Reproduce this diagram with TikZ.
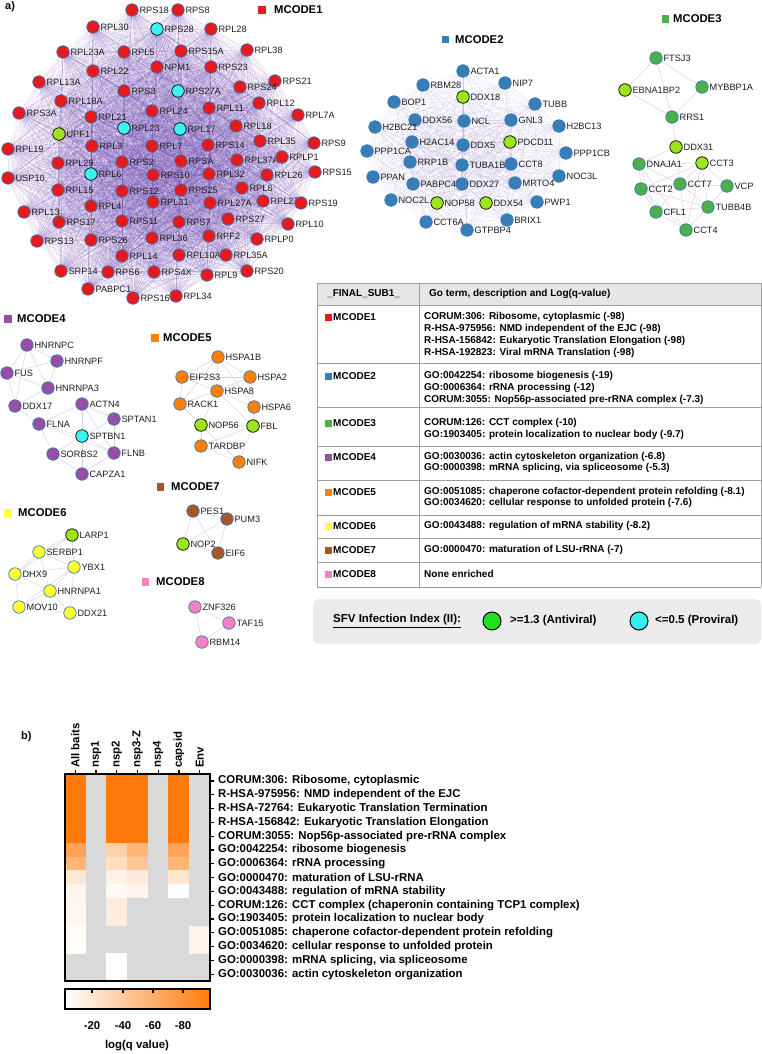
\documentclass[tikz,border=0pt]{standalone}
\usepackage{fontspec}
\setmainfont{Liberation Sans}
\pgfdeclarelayer{edgelayer}
\pgfsetlayers{edgelayer,main}
\definecolor{mRed}{HTML}{E41A1C}
\definecolor{mBlue}{HTML}{377EB8}
\definecolor{mGreen}{HTML}{4DAF4A}
\definecolor{mPurple}{HTML}{984EA3}
\definecolor{mOrange}{HTML}{FF7F00}
\definecolor{mYellow}{HTML}{FFFF33}
\definecolor{mBrown}{HTML}{A65628}
\definecolor{mPink}{HTML}{F781BF}
\definecolor{avG}{HTML}{9CE51C}
\definecolor{pvC}{HTML}{3EF2F2}
\definecolor{legG}{HTML}{1FE01F}
\definecolor{legC}{HTML}{33EEEE}
\definecolor{nbd}{HTML}{3B78B5}
\definecolor{hmO}{HTML}{FF7A0A}
\definecolor{hmGray}{HTML}{D9D9D9}
\definecolor{tblLine}{HTML}{A0A0A0}
\definecolor{tblHead}{HTML}{E6E6E6}
\definecolor{legBg}{HTML}{EBEBEB}
\definecolor{hazeA}{HTML}{6A44AE}
\definecolor{hazeB}{HTML}{8A78C4}
\definecolor{smEdge}{HTML}{D6D0E6}
\colorlet{cAn}{mRed}\colorlet{cBn}{mBlue}\colorlet{cCn}{mGreen}\colorlet{cDn}{mPurple}
\colorlet{cEn}{mOrange}\colorlet{cFn}{mYellow}\colorlet{cGn}{mBrown}\colorlet{cHn}{mPink}
\colorlet{cAa}{avG}\colorlet{cBa}{avG}\colorlet{cCa}{avG}\colorlet{cDa}{avG}
\colorlet{cEa}{avG}\colorlet{cFa}{avG}\colorlet{cGa}{avG}\colorlet{cHa}{avG}
\colorlet{cAp}{pvC}\colorlet{cDp}{pvC}
\colorlet{bdn}{nbd}\colorlet{bda}{black}\colorlet{bdp}{black}
\newcommand\nlab{\fontsize{9.2}{10}\selectfont}
\newcommand\mclab{\fontsize{11.3}{13}\selectfont\bfseries}
\newcommand\tbfont{\fontsize{10}{12}\selectfont\bfseries}
\newcommand\hmfont{\fontsize{11.4}{13}\selectfont\bfseries}
\def\clA{RPS18,RPS8,RPL30,RPS28,RPL28,RPL23A,RPL5,RPS15A,RPL38,RPL22,NPM1,RPS23,RPL13A,RPS21,RPS24,RPS3,RPS27A,RPL12,RPL18A,RPL24,RPL11,RPL7A,RPS3A,RPL21,RPL23,RPL17,RPL18,UPF1,RPL3,RPL7,RPS14,RPL35,RPL19,RPS9,RPL29,RPS2,RPSA,RPL37A,RPLP1,USP10,RPL6,RPS10,RPL32,RPL26,RPS15,RPL15,RPS12,RPS25,RPL8,RPL4,RPL31,RPL27A,RPL27,RPS19,RPL13,RPS17,RPS11,RPS7,RPS27,RPL10,RPS13,RPS26,RPL36,RPF2,RPLP0,RPL14,RPL10A,RPL35A,SRP14,RPS6,RPS4X,RPL9,RPS20,PABPC1,RPS16,RPL34}
\def\clB{ACTA1,RBM28,DDX18,NIP7,BOP1,DDX56,NCL,GNL3,TUBB,H2BC21,H2AC14,DDX5,PDCD11,H2BC13,PPP1CA,RRP1B,TUBA1B,CCT8,PPP1CB,PPAN,PABPC4,DDX27,MRTO4,NOC3L,NOC2L,NOP58,DDX54,PWP1,CCT6A,GTPBP4,BRIX1}
\tikzset{
  nd/.style={circle, minimum size=12.5pt, inner sep=0pt, line width=0.7pt},
  nl/.style={font=\nlab, inner sep=0.8pt, text=black!88},
  hazeone/.style={draw=hazeA, line width=0.4pt, opacity=0.17},
  hazetwo/.style={draw=hazeB, line width=0.4pt, opacity=0.15},
  smallE/.style={draw=smEdge, line width=0.5pt},
  mcsq/.style={minimum size=7.5pt, inner sep=0pt},
  mct/.style={font=\mclab, anchor=west, inner sep=0pt},
  tbt/.style={font=\tbfont, anchor=west, inner sep=0pt},
  hml/.style={font=\hmfont, anchor=west, inner sep=0pt},
  tsq/.style={minimum size=7pt, inner sep=0pt}
}
\begin{document}
\begin{tikzpicture}[x=1pt,y=-1pt]
\useasboundingbox (0,0) rectangle (762,1054);
\node[font=\fontsize{11}{13}\selectfont\bfseries, anchor=west, inner sep=0] (pa) at (5,7) {a)};
% ---------- MCODE1 ----------
\foreach \x/\y/\n/\t in {132/10/RPS18/n,178/10/RPS8/n,93/27/RPL30/n,157/29/RPS28/p,211/29/RPL28/n,63/52/RPL23A/n,124/52/RPL5/n,181/51/RPS15A/n,247/50/RPL38/n,93/71/RPL22/n,157/67/NPM1/n,211/67/RPS23/n,39/82/RPL13A/n,275/81/RPS21/n,240/87/RPS24/n,124/91/RPS3/n,178/91/RPS27A/p,259/103/RPL12/n,61/101/RPL18A/n,152/111/RPL24/n,209/108/RPL11/n,298/115/RPL7A/n,19/113/RPS3A/n,91/117/RPL21/n,124/128/RPL23/p,180/129/RPL17/p,236/126/RPL18/n,59/134/UPF1/a,92/146/RPL3/n,152/146/RPL7/n,208/145/RPS14/n,260/141/RPL35/n,8/149/RPL19/n,314/143/RPS9/n,58/163/RPL29/n,122/162/RPS2/n,181/161/RPSA/n,237/160/RPL37A/n,282/157/RPLP1/n,8/178/USP10/n,91/174/RPL6/p,153/175/RPS10/n,209/174/RPL32/n,267/175/RPL26/n,315/172/RPS15/n,58/190/RPL15/n,122/191/RPS12/n,181/190/RPS25/n,242/188/RPL8/n,91/206/RPL4/n,153/202/RPL31/n,210/203/RPL27A/n,263/201/RPL27/n,301/203/RPS19/n,24/212/RPL13/n,59/222/RPS17/n,122/221/RPS11/n,179/222/RPS7/n,228/219/RPS27/n,288/224/RPL10/n,37/241/RPS13/n,91/240/RPS26/n,152/238/RPL36/n,209/236/RPF2/n,257/239/RPLP0/n,122/256/RPL14/n,179/255/RPL10A/n,226/255/RPL35A/n,61/271/SRP14/n,108/272/RPS6/n,154/272/RPS4X/n,207/275/RPL9/n,247/271/RPS20/n,88/289/PABPC1/n,133/298/RPS16/n,176/296/RPL34/n}
  \node[nd, fill=cA\t, draw=bd\t, label={[nl]east:\n}] (\n) at (\x,\y) {};
% ---------- MCODE2 ----------
\foreach \x/\y/\n/\t in {463/71/ACTA1/n,423/85/RBM28/n,463/97/DDX18/a,505/83/NIP7/n,394/102/BOP1/n,415/120/DDX56/n,464/121/NCL/n,511/120/GNL3/n,535/104/TUBB/n,375/127/H2BC21/n,412/142/H2AC14/n,463/145/DDX5/n,510/142/PDCD11/a,559/126/H2BC13/n,367/151/PPP1CA/n,410/162/RRP1B/n,462/165/TUBA1B/n,511/164/CCT8/n,566/153/PPP1CB/n,373/177/PPAN/n,413/184/PABPC4/n,462/184/DDX27/n,515/183/MRTO4/n,559/176/NOC3L/n,391/200/NOC2L/n,437/203/NOP58/a,486/203/DDX54/a,537/202/PWP1/n,426/222/CCT6A/n,467/230/GTPBP4/n,507/220/BRIX1/n}
  \node[nd, fill=cB\t, draw=bd\t, label={[nl]east:\n}] (\n) at (\x,\y) {};
% ---------- MCODE3 ----------
\foreach \x/\y/\n/\t in {656/58/FTSJ3/n,625/90/EBNA1BP2/a,702/87/MYBBP1A/n,672/117/RRS1/n,676/147/DDX31/a,639/164/DNAJA1/n,702/163/CCT3/a,641/189/CCT2/n,680/184/CCT7/n,727/186/VCP/n,708/207/TUBB4B/n,656/212/CFL1/n,686/230/CCT4/n}
  \node[nd, fill=cC\t, draw=bd\t, label={[nl]east:\n}] (\n) at (\x,\y) {};
% ---------- MCODE4 ----------
\foreach \x/\y/\n/\t in {27/345/HNRNPC/n,57/361/HNRNPF/n,7/373/FUS/n,48/388/HNRNPA3/n,15/406/DDX17/n,82/404/ACTN4/n,114/419/SPTAN1/n,39/424/FLNA/n,82/436/SPTBN1/p,53/454/SORBS2/n,114/453/FLNB/n,82/474/CAPZA1/n}
  \node[nd, fill=cD\t, draw=bd\t, label={[nl]east:\n}] (\n) at (\x,\y) {};
% ---------- MCODE5 ----------
\foreach \x/\y/\n/\t in {218/357/HSPA1B/n,182/377/EIF2S3/n,250/377/HSPA2/n,217/391/HSPA8/n,180/404/RACK1/n,254/407/HSPA6/n,201/425/NOP56/a,253/426/FBL/a,201/446/TARDBP/n,239/462/NIFK/n}
  \node[nd, fill=cE\t, draw=bd\t, label={[nl]east:\n}] (\n) at (\x,\y) {};
% ---------- MCODE6 ----------
\foreach \x/\y/\n/\t in {72/535/LARP1/a,39/552/SERBP1/n,74/567/YBX1/n,15/574/DHX9/n,50/591/HNRNPA1/n,19/607/MOV10/n,70/613/DDX21/n}
  \node[nd, fill=cF\t, draw=bd\t, label={[nl]east:\n}] (\n) at (\x,\y) {};
% ---------- MCODE7 ----------
\foreach \x/\y/\n/\t in {193/511/PES1/n,227/519/PUM3/n,183/544/NOP2/a,218/553/EIF6/n}
  \node[nd, fill=cG\t, draw=bd\t, label={[nl]east:\n}] (\n) at (\x,\y) {};
% ---------- MCODE8 ----------
\foreach \x/\y/\n/\t in {195/607/ZNF326/n,229/623/TAF15/n,202/642/RBM14/n}
  \node[nd, fill=cH\t, draw=bd\t, label={[nl]east:\n}] (\n) at (\x,\y) {};
% ---------- edges ----------
\begin{pgfonlayer}{edgelayer}
\foreach \a [count=\i] in \clA {
  \foreach \b [count=\j] in \clA {
    \ifnum\j>\i \draw[hazeone] (\a.center) -- (\b.center); \fi
  }
}
\foreach \a [count=\i] in \clB {
  \foreach \b [count=\j] in \clB {
    \ifnum\j>\i \draw[hazetwo] (\a.center) -- (\b.center); \fi
  }
}
\foreach \a/\b in {FTSJ3/EBNA1BP2,FTSJ3/MYBBP1A,FTSJ3/RRS1,EBNA1BP2/RRS1,MYBBP1A/RRS1,RRS1/DDX31,DDX31/DNAJA1,DDX31/CCT7,DNAJA1/CCT3,DNAJA1/CCT2,DNAJA1/CCT7,DNAJA1/CFL1,DNAJA1/CCT4,CCT3/CCT7,CCT3/VCP,CCT3/TUBB4B,CCT3/CCT2,CCT3/CCT4,CCT2/CCT7,CCT2/CFL1,CCT2/CCT4,CCT7/VCP,CCT7/TUBB4B,CCT7/CFL1,CCT7/CCT4,VCP/TUBB4B,TUBB4B/CCT4,TUBB4B/CFL1,CFL1/CCT4,TUBB4B/CCT2,
  HNRNPC/HNRNPF,HNRNPC/FUS,HNRNPC/HNRNPA3,HNRNPC/DDX17,HNRNPF/HNRNPA3,HNRNPF/FUS,FUS/HNRNPA3,FUS/DDX17,HNRNPA3/DDX17,ACTN4/SPTAN1,ACTN4/FLNA,ACTN4/SPTBN1,ACTN4/FLNB,SPTAN1/SPTBN1,SPTAN1/FLNB,FLNA/SPTBN1,FLNA/SORBS2,FLNA/FLNB,SPTBN1/SORBS2,SPTBN1/FLNB,SPTBN1/CAPZA1,SORBS2/CAPZA1,FLNB/CAPZA1,DDX17/FLNA,
  HSPA1B/EIF2S3,HSPA1B/HSPA2,HSPA1B/HSPA8,HSPA1B/RACK1,HSPA1B/HSPA6,EIF2S3/HSPA8,EIF2S3/HSPA2,EIF2S3/RACK1,HSPA2/HSPA8,HSPA2/HSPA6,HSPA8/RACK1,HSPA8/HSPA6,HSPA8/NOP56,HSPA8/FBL,RACK1/NOP56,NOP56/FBL,NOP56/TARDBP,FBL/TARDBP,TARDBP/NIFK,FBL/NIFK,HSPA6/FBL,NOP56/NIFK,
  LARP1/SERBP1,LARP1/YBX1,LARP1/DHX9,SERBP1/YBX1,SERBP1/DHX9,SERBP1/HNRNPA1,YBX1/DHX9,YBX1/HNRNPA1,YBX1/DDX21,DHX9/HNRNPA1,DHX9/MOV10,HNRNPA1/MOV10,HNRNPA1/DDX21,MOV10/DDX21,YBX1/MOV10,
  PES1/PUM3,PES1/NOP2,PES1/EIF6,PUM3/NOP2,PUM3/EIF6,NOP2/EIF6,ZNF326/TAF15,ZNF326/RBM14,TAF15/RBM14}
  \draw[smallE] (\a) -- (\b);
\end{pgfonlayer}
% ---------- MCODE titles ----------
\foreach \k/\sx/\sy/\tx/\c in {1/262/10/274/mRed,2/445.5/39.5/455/mBlue,3/665.5/19/673/mGreen,4/8/319/17/mPurple,5/155/338/163/mOrange,6/8/513/18/mYellow,7/160.5/487/171/mBrown,8/145.5/582/156/mPink}{
  \node[mcsq, fill=\c] (sq\k) at (\sx,\sy) {};
  \node[mct] (mt\k) at (\tx,\sy) {MCODE\k};
}
% ---------- table ----------
\fill[tblHead] (317,283) rectangle (761,305);
\foreach \yy in {283,305,363,407,446,480,515,538,562,587}
  \draw[tblLine, line width=0.8pt] (317,\yy) -- (761,\yy);
\draw[tblLine, line width=0.8pt] (317,283) -- (317,587);
\draw[tblLine, line width=0.8pt] (419,283) -- (419,587);
\draw[tblLine, line width=0.8pt] (761,283) -- (761,587);
\node[tbt] (th1) at (327,294) {\_FINAL\_SUB1\_};
\node[tbt] (th2) at (429,294) {Go term, description and Log(q-value)};
\foreach \k/\yy/\c in {1/317/mRed,2/376/mBlue,3/423/mGreen,4/457/mPurple,5/492/mOrange,6/526/mYellow,7/550/mBrown,8/574/mPink}{
  \node[tsq, fill=\c] (tq\k) at (328.5,\yy) {};
  \node[tbt] (tl\k) at (333,\yy) {MCODE\k};
}
\foreach \yy/\txt [count=\i] in {317/{CORUM:306: Ribosome, cytoplasmic (-98)},329/{R-HSA-975956: NMD independent of the EJC (-98)},341/{R-HSA-156842: Eukaryotic Translation Elongation (-98)},353/{R-HSA-192823: Viral mRNA Translation (-98)},376/{GO:0042254: ribosome biogenesis (-19)},388/{GO:0006364: rRNA processing (-12)},400/{CORUM:3055: Nop56p-associated pre-rRNA complex (-7.3)},423/{CORUM:126: CCT complex (-10)},435/{GO:1903405: protein localization to nuclear body (-9.7)},457/{GO:0030036: actin cytoskeleton organization (-6.8)},468/{GO:0000398: mRNA splicing, via spliceosome (-5.3)},492/{GO:0051085: chaperone cofactor-dependent protein refolding (-8.1)},503/{GO:0034620: cellular response to unfolded protein (-7.6)},526/{GO:0043488: regulation of mRNA stability (-8.2)},550/{GO:0000470: maturation of LSU-rRNA (-7)},574/{None enriched}}
  \node[tbt] (tt\i) at (424,\yy) {\txt};
% ---------- legend ----------
\fill[legBg, rounded corners=6pt] (313,599) rectangle (761,644);
\node[font=\fontsize{11.5}{13}\selectfont\bfseries, anchor=west, inner sep=0pt] (lgt) at (333,621) {\underline{SFV Infection Index (II):}};
\node[circle, minimum size=18pt, inner sep=0pt, fill=legG, draw=black, line width=1pt] (lga) at (492,621) {};
\node[font=\fontsize{11.5}{13}\selectfont\bfseries, anchor=west, inner sep=0pt] (lgat) at (510,621) {>=1.3 (Antiviral)};
\node[circle, minimum size=18pt, inner sep=0pt, fill=legC, draw=black, line width=1pt] (lgp) at (639,621) {};
\node[font=\fontsize{11.5}{13}\selectfont\bfseries, anchor=west, inner sep=0pt] (lgpt) at (655,621) {<=0.5 (Proviral)};
% ---------- heatmap ----------
\node[font=\fontsize{11}{13}\selectfont\bfseries, anchor=west, inner sep=0] (pb) at (21,737) {b)};
\fill[hmGray] (65,774) rectangle (210,981);
\foreach \r/\c/\p in {1/1/100,2/1/100,3/1/100,4/1/100,5/1/100,1/3/100,2/3/100,3/3/100,4/3/100,5/3/100,1/4/100,2/4/100,3/4/100,4/4/100,5/4/100,1/6/100,2/6/100,3/6/100,4/6/100,5/6/100,
  6/1/70,6/3/35,6/4/55,6/6/68,7/1/55,7/3/25,7/4/42,7/6/55,8/1/18,8/3/9,8/4/15,8/6/20,9/1/8,9/3/4,9/4/8,9/6/0,
  10/1/7,10/3/14,11/1/7,11/3/14,12/1/2,12/7/8,13/1/2,13/7/8,14/3/0,15/3/0}
  \fill[hmO!\p!white] ({65+(\c-1)*20.714-0.2},{774+(\r-1)*13.8-0.2}) rectangle ++(21.114,14.2);
\draw[line width=1.6pt] (65,774) rectangle (210,981);
\foreach \lab [count=\i] in {All baits,nsp1,nsp2,nsp3-Z,nsp4,capsid,Env}{
  \draw[line width=1.2pt] ({65+(\i-0.5)*20.714},774) -- ++(0,-4);
  \node[hml, rotate=90] (hc\i) at ({65+(\i-0.5)*20.714},768) {\lab};
}
\foreach \lab [count=\j] in {{CORUM:306: Ribosome, cytoplasmic},{R-HSA-975956: NMD independent of the EJC},{R-HSA-72764: Eukaryotic Translation Termination},{R-HSA-156842: Eukaryotic Translation Elongation},{CORUM:3055: Nop56p-associated pre-rRNA complex},{GO:0042254: ribosome biogenesis},{GO:0006364: rRNA processing},{GO:0000470: maturation of LSU-rRNA},{GO:0043488: regulation of mRNA stability},{CORUM:126: CCT complex (chaperonin containing TCP1 complex)},{GO:1903405: protein localization to nuclear body},{GO:0051085: chaperone cofactor-dependent protein refolding},{GO:0034620: cellular response to unfolded protein},{GO:0000398: mRNA splicing, via spliceosome},{GO:0030036: actin cytoskeleton organization}}{
  \draw[line width=1.2pt] (210,{774+(\j-0.5)*13.8}) -- ++(4,0);
  \node[hml] (hr\j) at (218,{774+(\j-0.5)*13.8}) {\lab};
}
% ---------- colour bar ----------
\shade[left color=white, right color=hmO] (65,989) rectangle (210,1009);
\draw[line width=1.6pt] (65,989) rectangle (210,1009);
\foreach \xx/\v in {92/-20,123/-40,153/-60,183/-80}{
  \draw[line width=1.2pt] (\xx,989) -- ++(0,3.5);
  \node[font=\hmfont, inner sep=0pt] (cb\xx) at (\xx,1026) {\v};
}
\node[font=\hmfont, inner sep=0pt] (cbt) at (137,1046) {log(q value)};
\end{tikzpicture}
\end{document}
